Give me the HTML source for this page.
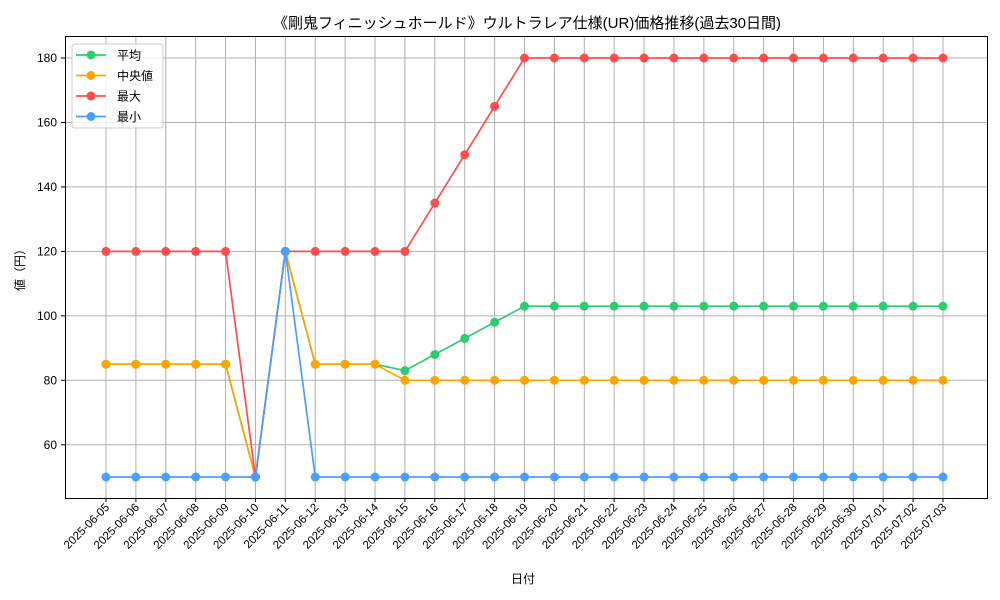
<!DOCTYPE html>
<html><head><meta charset="utf-8">
<style>
html,body{margin:0;padding:0;background:#fff;}
svg{display:block;font-family:"Liberation Sans","Noto Sans CJK JP",sans-serif;}
</style></head>
<body>
<svg id="chart" width="1000" height="600" xmlns="http://www.w3.org/2000/svg">
<rect width="1000" height="600" fill="#fff"/>
<text x="527" y="28" text-anchor="middle" font-size="15" fill="#000">《剛鬼フィニッシュホールド》ウルトラレア仕様(UR)価格推移(過去30日間)</text>
<g id="grid"></g>
<g id="series"></g>
<rect x="65.5" y="36.5" width="922" height="462" fill="none" stroke="#000" stroke-width="1"/>
<g id="axes"></g>
<text x="523" y="583" text-anchor="middle" font-size="12">日付</text>
<text transform="translate(24,267) rotate(-90)" text-anchor="middle" font-size="12">値（円）</text>
<g id="legend"></g>
</svg>
<script>
const dates=["2025-06-05","2025-06-06","2025-06-07","2025-06-08","2025-06-09","2025-06-10","2025-06-11","2025-06-12","2025-06-13","2025-06-14","2025-06-15","2025-06-16","2025-06-17","2025-06-18","2025-06-19","2025-06-20","2025-06-21","2025-06-22","2025-06-23","2025-06-24","2025-06-25","2025-06-26","2025-06-27","2025-06-28","2025-06-29","2025-06-30","2025-07-01","2025-07-02","2025-07-03"];
const avgValues=[85,85,85,85,85,50,120,85,85,85,83,88,93,98,103,103,103,103,103,103,103,103,103,103,103,103,103,103,103];
const medianValues=[85,85,85,85,85,50,120,85,85,85,80,80,80,80,80,80,80,80,80,80,80,80,80,80,80,80,80,80,80];
const maxValues=[120,120,120,120,120,50,120,120,120,120,120,135,150,165,180,180,180,180,180,180,180,180,180,180,180,180,180,180,180];
const minValues=[50,50,50,50,50,50,120,50,50,50,50,50,50,50,50,50,50,50,50,50,50,50,50,50,50,50,50,50,50];
const yTicks=[60,80,100,120,140,160,180];
const seriesNames=["平均","中央値","最大","最小"];
const seriesColors=["#2ecc71","#ffa500","#ff4d4d","#4d9fff"];

const NS="http://www.w3.org/2000/svg";
const x=i=>106+i*(943-106)/(dates.length-1);
const y=v=>477-(v-50)*(477-58)/130;
function mk(tag,attrs,parent){const e=document.createElementNS(NS,tag);for(const k in attrs)e.setAttribute(k,attrs[k]);parent.appendChild(e);return e;}
const grid=document.getElementById("grid"),axes=document.getElementById("axes"),ser=document.getElementById("series"),leg=document.getElementById("legend");

dates.forEach((d,i)=>{
  const gl=mk("line",{x1:x(i),x2:x(i),y1:36,y2:498,stroke:"#b0b0b0","stroke-width":1},grid);
  
  
  mk("line",{x1:x(i),x2:x(i),y1:498,y2:502,stroke:"#000"},axes);
  const t=mk("text",{x:x(i)+4,y:508,"text-anchor":"end","font-size":"11.5",transform:`rotate(-45 ${x(i)+4} 508)`},axes);
  t.textContent=d;
  
  
});
yTicks.forEach(v=>{
  const gl=mk("line",{x1:65,x2:988,y1:y(v),y2:y(v),stroke:"#b0b0b0","stroke-width":1},grid);
  
  
  mk("line",{x1:61,x2:65,y1:y(v),y2:y(v),stroke:"#000"},axes);
  const t=mk("text",{x:57,y:y(v)+4,"text-anchor":"end","font-size":"12"},axes);
  t.textContent=v;
  
  
});

const allSeries=[avgValues,medianValues,maxValues,minValues];
allSeries.forEach((vals,s)=>{
  const g=mk("g",{},ser);
  
  
  mk("polyline",{points:vals.map((v,i)=>x(i)+","+y(v)).join(" "),fill:"none",stroke:seriesColors[s],"stroke-width":1.7},g);
  vals.forEach((v,i)=>{
    const c=mk("circle",{cx:x(i),cy:y(v),r:4.5,fill:seriesColors[s]},g);
    
    
  });
});

const box=mk("rect",{x:72,y:44,width:91,height:84,rx:3,fill:"#fff","fill-opacity":0.8,stroke:"#ccc"},leg);


seriesNames.forEach((n,s)=>{
  const yy=55+s*20.5;
  const g=mk("g",{},leg);
  
  
  mk("line",{x1:76,x2:106,y1:yy,y2:yy,stroke:seriesColors[s],"stroke-width":1.7},g);
  mk("circle",{cx:91,cy:yy,r:4.5,fill:seriesColors[s]},g);
  const t=mk("text",{x:117,y:yy+4.5,"font-size":"12"},g);
  t.textContent=n;
});
</script>
</body></html>
